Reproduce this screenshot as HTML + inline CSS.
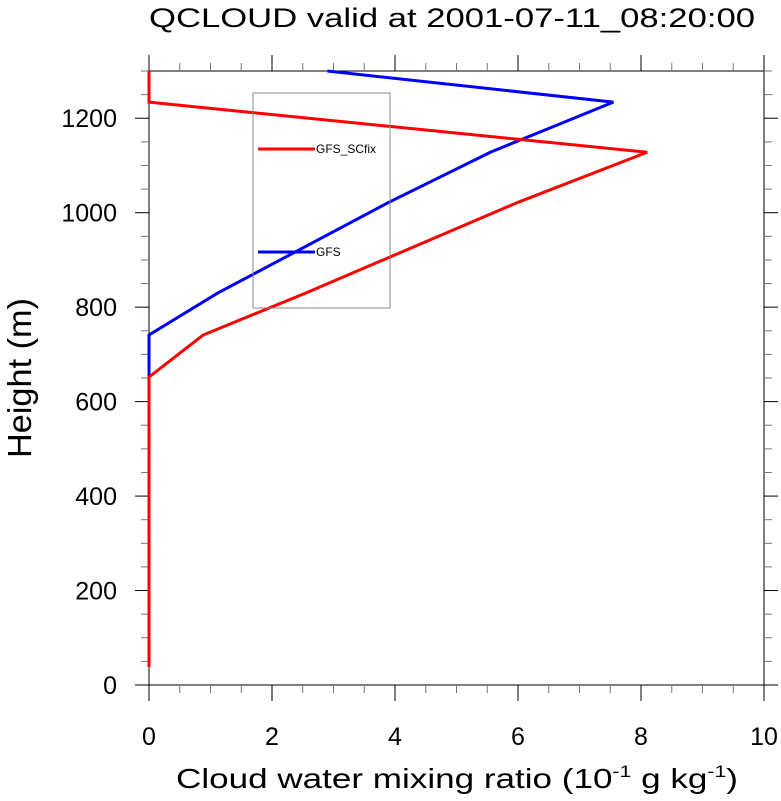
<!DOCTYPE html>
<html><head><meta charset="utf-8"><style>
html,body{margin:0;padding:0;background:#fff;}
svg{display:block;font-family:"Liberation Sans",sans-serif;}
</style></head><body>
<svg id="chart" width="781" height="801" viewBox="0 0 781 801">
<text x="452" y="27" font-size="27" text-anchor="middle" textLength="606" lengthAdjust="spacingAndGlyphs">QCLOUD valid at 2001-07-11_08:20:00</text>
<text transform="translate(31,378) rotate(-90)" font-size="33" text-anchor="middle" textLength="160" lengthAdjust="spacingAndGlyphs">Height (m)</text>
<text x="457" y="788" font-size="28" text-anchor="middle" textLength="562" lengthAdjust="spacingAndGlyphs">Cloud water mixing ratio (10<tspan dy="-11" font-size="17">-1</tspan><tspan dy="11"> g kg</tspan><tspan dy="-11" font-size="17">-1</tspan><tspan dy="11">)</tspan></text>
<g id="axes"></g>
<g id="series"></g>
<g id="legend">
<rect x="253" y="93" width="137" height="215" fill="none" stroke="#888" stroke-width="1"/>
<line x1="258" y1="149" x2="315" y2="149" stroke="#f00" stroke-width="3"/>
<text x="316" y="153" font-size="12">GFS_SCfix</text>
<line x1="258" y1="252" x2="315" y2="252" stroke="#00f" stroke-width="3"/>
<text x="316" y="256" font-size="12">GFS</text>
</g>
</svg>
<script>
const heights = [38, 652, 741, 830, 1022, 1128, 1234, 1300];
const scfixValues = [0, 0, 0.88, 2.55, 6.0, 8.1, 0, 0];
const gfsValues = [0, 0, 0, 1.12, 3.9, 5.55, 7.55, 2.9];
const xTicks = [0, 2, 4, 6, 8, 10];
const yTicks = [0, 200, 400, 600, 800, 1000, 1200];

const L=149,R=764,T=71,B=685;
const xs=v=>L+(v/10)*(R-L);
const ys=v=>B-(v/1300)*(B-T);
const NS="http://www.w3.org/2000/svg";
const ax=document.getElementById('axes');
function mk(tag,attrs,parent){const e=document.createElementNS(NS,tag);for(const k in attrs)e.setAttribute(k,attrs[k]);parent.appendChild(e);return e;}
const frame=mk('rect',{x:L,y:T,width:R-L,height:B-T,fill:'none',stroke:'#000','stroke-width':1},ax);


for(let v=0;v<=10.001;v+=0.5){
  const maj=Math.abs(v/2-Math.round(v/2))<1e-6;
  const x=xs(v),len=maj?16:8;
  const t1=mk('line',{x1:x,y1:B,x2:x,y2:B+len,stroke:maj?'#000':'#777'},ax);
  
  
  const t2=mk('line',{x1:x,y1:T,x2:x,y2:T-len,stroke:maj?'#000':'#777'},ax);
  
  
}
for(let v=0;v<=1300;v+=50){
  const maj=v%200===0;
  const y=ys(v),len=maj?14:8;
  const t1=mk('line',{x1:L,y1:y,x2:L-len,y2:y,stroke:maj?'#000':'#777'},ax);
  
  
  const t2=mk('line',{x1:R,y1:y,x2:R+len,y2:y,stroke:maj?'#000':'#777'},ax);
  
  
}
xTicks.forEach(v=>{
  const t=mk('text',{x:xs(v),y:745,'font-size':25,'text-anchor':'middle'},ax);
  t.textContent=v;
  
  
});
yTicks.forEach(v=>{
  const t=mk('text',{x:117,y:ys(v)+9,'font-size':25,'text-anchor':'end'},ax);
  t.textContent=v;
  
  
});
const sg=document.getElementById('series');
function line(vals,color,name){
  const pts=vals.map((v,i)=>xs(v)+','+ys(heights[i])).join(' ');
  const p=mk('polyline',{points:pts,fill:'none',stroke:color,'stroke-width':3,'stroke-linejoin':'miter'},sg);
  
  
}
line(gfsValues,'#00f','series-gfs');
line(scfixValues,'#f00','series-gfs-scfix');
</script>
</body></html>
